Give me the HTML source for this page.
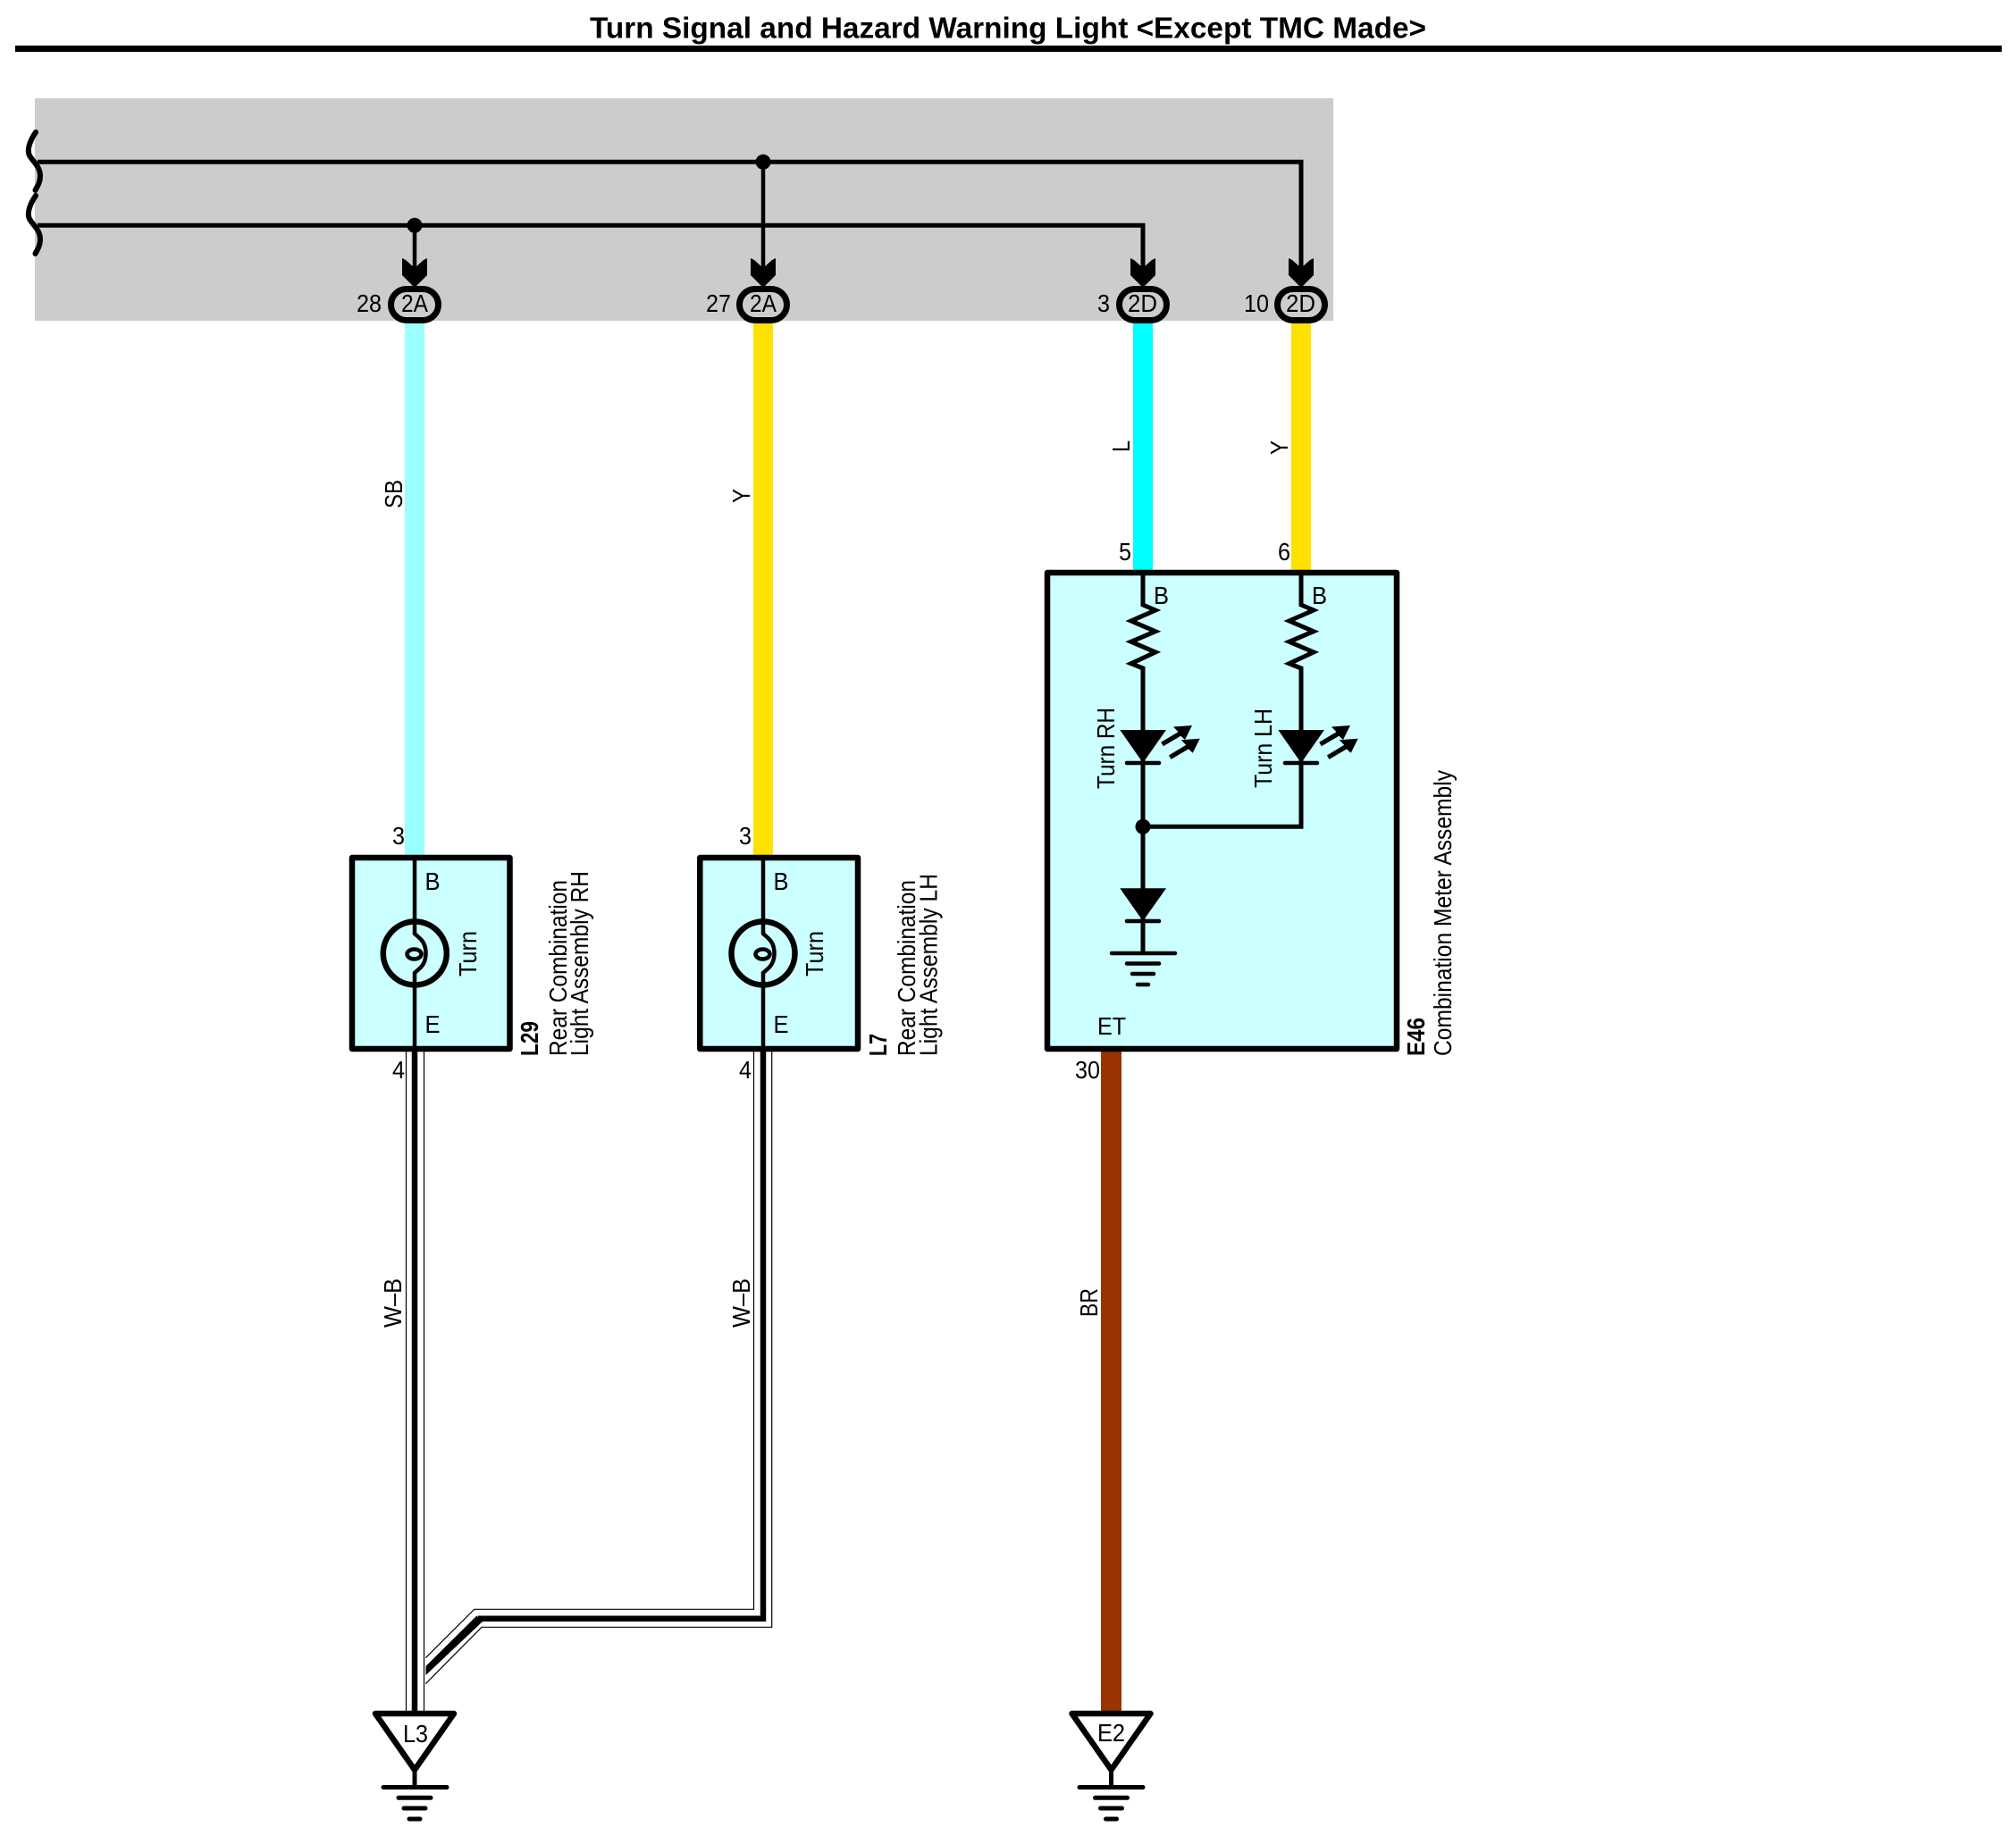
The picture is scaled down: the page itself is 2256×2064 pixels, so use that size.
<!DOCTYPE html>
<html>
<head>
<meta charset="utf-8">
<title>Turn Signal and Hazard Warning Light</title>
<style>
html,body{margin:0;padding:0;background:#fff;}
svg{display:block;}
text{font-family:"Liberation Sans",sans-serif;font-size:28px;fill:#000;}
.b{font-weight:bold;}
</style>
</head>
<body>
<svg width="2256" height="2064" viewBox="0 0 2256 2064" xmlns="http://www.w3.org/2000/svg">
<rect width="2256" height="2064" fill="#fff"/>
<!-- title -->
<text class="b" x="660" y="42.5" style="font-size:33px" textLength="936" lengthAdjust="spacingAndGlyphs">Turn Signal and Hazard Warning Light &lt;Except TMC Made&gt;</text>
<rect x="17" y="51" width="2223" height="7" fill="#000"/>
<!-- grey -->
<rect x="39" y="110" width="1453" height="249" fill="#cccccc"/>
<!-- colored wires -->
<rect x="453" y="355" width="22" height="605" fill="#99ffff"/>
<rect x="843" y="355" width="22" height="605" fill="#ffe100"/>
<rect x="1268" y="355" width="22" height="285" fill="#00ffff"/>
<rect x="1445" y="355" width="22" height="285" fill="#ffe100"/>
<rect x="1232" y="1175" width="23" height="740" fill="#993300"/>
<!-- bus -->
<g fill="none" stroke="#000">
<path d="M42 181.3H1456V300" stroke-width="5"/>
<path d="M42 252.3H1279V300" stroke-width="5"/>
<path d="M464 252V300M854 181V300" stroke-width="4.5"/>
<path d="M40 148C33 158 30 168 33 174C36 180 45 186 45 197C45 204 42 208 39.5 213M40 219C33 229 30 239 33 245C36 251 45 257 45 268C45 275 42 279 39.5 284" stroke-width="6" stroke-linecap="round"/>
</g>
<circle cx="464" cy="252.3" r="8.5"/>
<circle cx="854" cy="181.3" r="8.5"/>
<!-- arrows + connectors -->
<g>
<path d="M450 289L454 291L464 300L474 291L478 289V308L464 322L450 308Z"/>
<path d="M840 289L844 291L854 300L864 291L868 289V308L854 322L840 308Z"/>
<path d="M1265 289L1269 291L1279 300L1289 291L1293 289V308L1279 322L1265 308Z"/>
<path d="M1442 289L1446 291L1456 300L1466 291L1470 289V308L1456 322L1442 308Z"/>
<g fill="#cccccc" stroke="#000" stroke-width="7">
<rect x="437.5" y="323.5" width="53" height="35" rx="17.5"/>
<rect x="827.5" y="323.5" width="53" height="35" rx="17.5"/>
<rect x="1252.5" y="323.5" width="53" height="35" rx="17.5"/>
<rect x="1429.5" y="323.5" width="53" height="35" rx="17.5"/>
</g>
</g>
<text x="449" y="349" textLength="30" lengthAdjust="spacingAndGlyphs">2A</text>
<text x="839" y="349" textLength="30" lengthAdjust="spacingAndGlyphs">2A</text>
<text x="1262" y="349" textLength="33" lengthAdjust="spacingAndGlyphs">2D</text>
<text x="1439" y="349" textLength="33" lengthAdjust="spacingAndGlyphs">2D</text>
<text x="399" y="349" textLength="28" lengthAdjust="spacingAndGlyphs">28</text>
<text x="790" y="349" textLength="28" lengthAdjust="spacingAndGlyphs">27</text>
<text x="1228" y="349" textLength="14" lengthAdjust="spacingAndGlyphs">3</text>
<text x="1392" y="349" textLength="28" lengthAdjust="spacingAndGlyphs">10</text>
<!-- boxes -->
<g fill="#ccffff" stroke="#000" stroke-width="6.5" stroke-linejoin="round">
<rect x="394" y="960" width="176.5" height="214"/>
<rect x="783.3" y="960" width="176.7" height="214"/>
<rect x="1172" y="641" width="391" height="533"/>
</g>
<!-- bulbs -->
<g fill="none" stroke="#000">
<circle cx="464.3" cy="1067" r="35.5" stroke-width="6.5"/>
<circle cx="854" cy="1067" r="35.5" stroke-width="6.5"/>
<path d="M464 957V1045L469.500 1050Q476.500 1056 476.500 1067Q476.500 1078 469.500 1084L464 1089V1177" stroke-width="4.5"/>
<path d="M854 957V1045L859.500 1050Q866.500 1056 866.500 1067Q866.500 1078 859.500 1084L854 1089V1177" stroke-width="4.500"/>
<ellipse cx="463.500" cy="1068" rx="8" ry="5.500" stroke-width="4.500"/>
<ellipse cx="853.500" cy="1068" rx="8" ry="5.500" stroke-width="4.500"/>
</g>
<text x="475.500" y="996" textLength="17" lengthAdjust="spacingAndGlyphs">B</text>
<text x="865.500" y="996" textLength="17" lengthAdjust="spacingAndGlyphs">B</text>
<text x="475.500" y="1156" textLength="17" lengthAdjust="spacingAndGlyphs">E</text>
<text x="865.500" y="1156" textLength="17" lengthAdjust="spacingAndGlyphs">E</text>
<text transform="translate(533,1093) rotate(-90)" textLength="51" lengthAdjust="spacingAndGlyphs">Turn</text>
<text transform="translate(921,1093) rotate(-90)" textLength="51" lengthAdjust="spacingAndGlyphs">Turn</text>
<text x="439" y="945" textLength="14" lengthAdjust="spacingAndGlyphs">3</text>
<text x="827" y="945" textLength="14" lengthAdjust="spacingAndGlyphs">3</text>
<text x="439" y="1207" textLength="14" lengthAdjust="spacingAndGlyphs">4</text>
<text x="827" y="1207" textLength="14" lengthAdjust="spacingAndGlyphs">4</text>
<text class="b" transform="translate(602,1182) rotate(-90)" textLength="39" lengthAdjust="spacingAndGlyphs">L29</text>
<text transform="translate(634,1182) rotate(-90)" textLength="197" lengthAdjust="spacingAndGlyphs">Rear Combination</text>
<text transform="translate(658,1182) rotate(-90)" textLength="207" lengthAdjust="spacingAndGlyphs">Light Assembly RH</text>
<text class="b" transform="translate(992,1182) rotate(-90)" textLength="25" lengthAdjust="spacingAndGlyphs">L7</text>
<text transform="translate(1024,1182) rotate(-90)" textLength="197" lengthAdjust="spacingAndGlyphs">Rear Combination</text>
<text transform="translate(1048.500,1182) rotate(-90)" textLength="204" lengthAdjust="spacingAndGlyphs">Light Assembly LH</text>
<text class="b" transform="translate(1594,1182) rotate(-90)" textLength="43" lengthAdjust="spacingAndGlyphs">E46</text>
<text transform="translate(1624,1182) rotate(-90)" textLength="320" lengthAdjust="spacingAndGlyphs">Combination Meter Assembly</text>
<!-- wire labels -->
<text transform="translate(450,569) rotate(-90)" textLength="32" lengthAdjust="spacingAndGlyphs">SB</text>
<text transform="translate(839,563) rotate(-90)" textLength="16" lengthAdjust="spacingAndGlyphs">Y</text>
<text transform="translate(1264,506) rotate(-90)" textLength="13" lengthAdjust="spacingAndGlyphs">L</text>
<text transform="translate(1441,509) rotate(-90)" textLength="16" lengthAdjust="spacingAndGlyphs">Y</text>
<text transform="translate(449,1486) rotate(-90)" textLength="55" lengthAdjust="spacingAndGlyphs">W–B</text>
<text transform="translate(839,1486) rotate(-90)" textLength="55" lengthAdjust="spacingAndGlyphs">W–B</text>
<text transform="translate(1228,1474) rotate(-90)" textLength="32" lengthAdjust="spacingAndGlyphs">BR</text>
<!-- E46 inside -->
<g fill="none" stroke="#000" stroke-width="5">
<path d="M1279 638V677L1293 683L1265.700 695L1293 706.700L1265.700 718.300L1293 730L1265.700 742.700L1279 748V1067"/>
<path d="M1456 638V677L1470 683L1442.700 695L1470 706.700L1442.700 718.300L1470 730L1442.700 742.700L1456 748V925.300H1279"/>
</g>
<g fill="#000">
<path d="M1253.300 817H1305L1279 854Z"/>
<path d="M1430.300 817H1482L1456 854Z"/>
<path d="M1253.300 994.300H1305L1279 1031Z"/>
<circle cx="1279" cy="925.300" r="8.500"/>
<!-- LED arrows -->
<path d="M1334 812L1313 813.500L1318.500 819.200L1299.200 830.800L1301.800 835.200L1321.300 823.700L1326 828Z"/>
<path d="M1342.700 826.700L1321.700 828.200L1327.200 833.900L1307.900 845.500L1310.500 849.900L1330 838.400L1334.700 842.700Z"/>
<path d="M1511 812L1490 813.500L1495.500 819.200L1476.200 830.800L1478.800 835.200L1498.300 823.700L1503 828Z"/>
<path d="M1519.700 826.700L1498.700 828.200L1504.200 833.900L1484.900 845.500L1487.500 849.900L1507 838.400L1511.700 842.700Z"/>
</g>
<g stroke="#000" stroke-width="4.500" stroke-linecap="round" fill="none">
<path d="M1261 854H1297M1438 854H1474M1261 1031H1297"/>
<path d="M1244 1067H1315M1261 1078.500H1297M1267 1090H1291M1273 1102H1285"/>
</g>
<text x="1291" y="676" textLength="17" lengthAdjust="spacingAndGlyphs">B</text>
<text x="1468" y="676" textLength="17" lengthAdjust="spacingAndGlyphs">B</text>
<text x="1228" y="1158" textLength="32" lengthAdjust="spacingAndGlyphs">ET</text>
<text x="1203" y="1207" textLength="28" lengthAdjust="spacingAndGlyphs">30</text>
<text x="1252" y="627" textLength="14" lengthAdjust="spacingAndGlyphs">5</text>
<text x="1430" y="627" textLength="14" lengthAdjust="spacingAndGlyphs">6</text>
<text transform="translate(1247,883) rotate(-90)" textLength="91" lengthAdjust="spacingAndGlyphs">Turn RH</text>
<text transform="translate(1423,882) rotate(-90)" textLength="89" lengthAdjust="spacingAndGlyphs">Turn LH</text>
<!-- W-B wires -->
<g fill="none" stroke="#000">
<path d="M454.500 1177V1916M474.500 1177V1916" stroke-width="1.200"/>
<path d="M843.500 1177V1801.300H530.700L476.300 1855.700" stroke-width="1.200"/>
<path d="M863.700 1177V1821.300H539L476.300 1884.700" stroke-width="1.200"/>
<path d="M464 1177V1916" stroke-width="6.500"/>
<path d="M854 1177V1811.700H535" stroke-width="6.500"/>
</g>
<polygon points="476.500,1865 533.500,1808.500 540,1815 476.500,1875"/>
<!-- grounds -->
<g fill="#fff" stroke="#000" stroke-width="6.500" stroke-linejoin="round">
<path d="M420 1918H508L464 1981Z"/>
<path d="M1199.500 1918H1287.500L1243.500 1981Z"/>
</g>
<g fill="none" stroke="#000" stroke-width="5" stroke-linecap="round">
<path d="M464 1981V2000.500M429 2000.500H500M446 2012.300H482M452 2024H476M458 2036H470"/>
<path d="M1243.500 1981V2000.500M1208 2000.500H1279M1225.500 2012.300H1261.500M1231.500 2024H1255.500M1237.500 2036H1249.500"/>
</g>
<text x="451" y="1950" textLength="28" lengthAdjust="spacingAndGlyphs">L3</text>
<text x="1228" y="1949" textLength="31" lengthAdjust="spacingAndGlyphs">E2</text>
</svg>
</body>
</html>
